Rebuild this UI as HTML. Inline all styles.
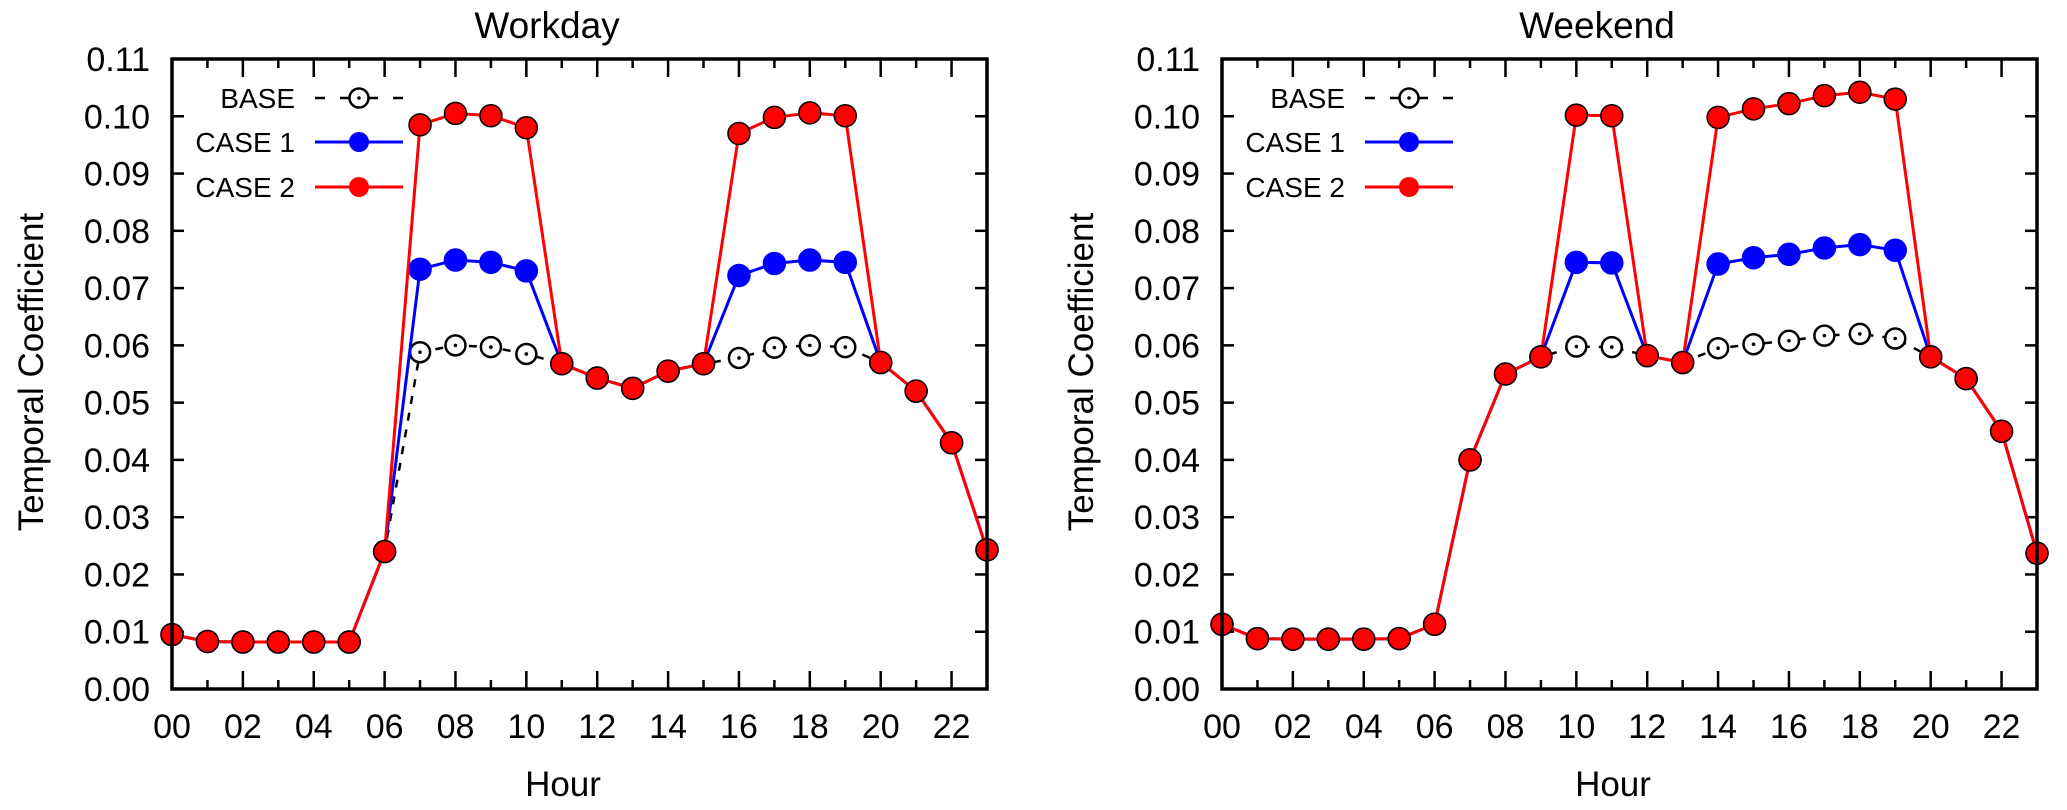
<!DOCTYPE html>
<html><head><meta charset="utf-8"><style>
html,body{margin:0;padding:0;background:#fff;}
svg{display:block;font-family:"Liberation Sans",sans-serif;}
</style></head><body>
<svg id="chart" width="2067" height="810" xmlns="http://www.w3.org/2000/svg"></svg>
<script>
const hours = [0,1,2,3,4,5,6,7,8,9,10,11,12,13,14,15,16,17,18,19,20,21,22,23];
const xTickLabels = ["00","02","04","06","08","10","12","14","16","18","20","22"];
const yTickLabels = ["0.00","0.01","0.02","0.03","0.04","0.05","0.06","0.07","0.08","0.09","0.10","0.11"];
const seriesNames = ["BASE","CASE 1","CASE 2"];
const workCase2 = [0.0095,0.0083,0.0082,0.0082,0.0082,0.0082,0.024,0.0985,0.1005,0.1001,0.098,0.0568,0.0543,0.0525,0.0555,0.0568,0.097,0.0998,0.1006,0.1001,0.057,0.052,0.043,0.0243];
const workCase1 = [0.0095,0.0083,0.0082,0.0082,0.0082,0.0082,0.024,0.0733,0.0749,0.0745,0.073,0.0568,0.0543,0.0525,0.0555,0.0568,0.0722,0.0743,0.0749,0.0745,0.057,0.052,0.043,0.0243];
const workBase = [0.0095,0.0083,0.0082,0.0082,0.0082,0.0082,0.024,0.0588,0.060,0.0597,0.0585,0.0568,0.0543,0.0525,0.0555,0.0568,0.0578,0.0596,0.060,0.0597,0.057,0.052,0.043,0.0243];
const endCase2 = [0.0113,0.0088,0.0087,0.0087,0.0087,0.0088,0.0113,0.040,0.055,0.058,0.1002,0.1001,0.0582,0.057,0.0998,0.1013,0.1022,0.1036,0.1042,0.103,0.058,0.0542,0.045,0.0237];
const endCase1 = [0.0113,0.0088,0.0087,0.0087,0.0087,0.0088,0.0113,0.040,0.055,0.058,0.0745,0.0744,0.0582,0.057,0.0742,0.0753,0.0759,0.0770,0.0776,0.0766,0.058,0.0542,0.045,0.0237];
const endBase = [0.0113,0.0088,0.0087,0.0087,0.0087,0.0088,0.0113,0.040,0.055,0.058,0.0598,0.0597,0.0582,0.057,0.0595,0.0602,0.0608,0.0617,0.062,0.0612,0.058,0.0542,0.045,0.0237];

const NS="http://www.w3.org/2000/svg";
const svg=document.getElementById('chart');
function mk(tag,attrs,parent){const e=document.createElementNS(NS,tag);for(const k in attrs)e.setAttribute(k,attrs[k]);(parent||svg).appendChild(e);return e;}

function panel(off,title,base,c1,c2,key){
  const L=172+off,R=987+off,T=59,B=689;
  const g=mk('g',{});
  
  
  const xs=h=>L+(R-L)*h/23;
  const ys=v=>B-(B-T)*v/0.11;
  const t=mk('text',{x:547+off,y:38,'font-size':37,'text-anchor':'middle'},g);t.textContent=title;
  
  
  yTickLabels.forEach((lab,i)=>{
    const y=ys(i*0.01);
    mk('line',{x1:L,x2:L+12,y1:y,y2:y,stroke:'#000','stroke-width':2.5},g);
    mk('line',{x1:R,x2:R-12,y1:y,y2:y,stroke:'#000','stroke-width':2.5},g);
    const tx=mk('text',{x:L-22,y:y+12,'font-size':34,'text-anchor':'end'},g);tx.textContent=lab;
    
    
  });
  hours.forEach(h=>{
    const x=xs(h),len=(h%2===0)?18:9;
    mk('line',{x1:x,x2:x,y1:B,y2:B-len,stroke:'#000','stroke-width':2.5},g);
    mk('line',{x1:x,x2:x,y1:T,y2:T+len,stroke:'#000','stroke-width':2.5},g);
  });
  xTickLabels.forEach((lab,i)=>{
    const tx=mk('text',{x:xs(i*2),y:738,'font-size':34,'text-anchor':'middle'},g);tx.textContent=lab;
    
    
  });
  const yl=mk('text',{x:0,y:0,'font-size':35,'text-anchor':'middle',transform:`translate(${43+off},372) rotate(-90)`},g);yl.textContent='Temporal Coefficient';
  
  
  const xl=mk('text',{x:563+off,y:796,'font-size':35,'text-anchor':'middle'},g);xl.textContent='Hour';
  
  
  const pts=a=>a.map((v,i)=>xs(hours[i])+','+ys(v)).join(' ');
  const pb=mk('polyline',{points:pts(base),fill:'none',stroke:'#000','stroke-width':2.5,'stroke-dasharray':'8 9'},g);
  
  
  base.forEach((v,i)=>{
    const c=mk('circle',{cx:xs(hours[i]),cy:ys(v),r:10,fill:'#fff',stroke:'#000','stroke-width':2.5},g);
    
    
    mk('circle',{cx:xs(hours[i]),cy:ys(v),r:1.8,fill:'#000'},g);
  });
  [[c1,'#0000ff','case1'],[c2,'#ff0000','case2']].forEach(([arr,col,nm])=>{
    const pl=mk('polyline',{points:pts(arr),fill:'none',stroke:col,'stroke-width':3},g);
    
    
    arr.forEach((v,i)=>{
      const c=mk('circle',{cx:xs(hours[i]),cy:ys(v),r:11,fill:col,stroke:(nm==='case2'?'#000':col),'stroke-width':1.5},g);
      
      
    });
  });
  mk('rect',{x:L,y:T,width:R-L,height:B-T,fill:'none',stroke:'#000','stroke-width':3.5},g);
  const lg=mk('g',{},g);
  
  
  const ly=[98,142,187],cols=['#000','#0000ff','#ff0000'];
  seriesNames.forEach((n,i)=>{
    const tx=mk('text',{x:295+off,y:ly[i]+10,'font-size':28,'text-anchor':'end'},lg);tx.textContent=n;
    
    
    const cx=359+off;
    if(i===0){
      mk('line',{x1:315+off,x2:325+off,y1:ly[i],y2:ly[i],stroke:'#000','stroke-width':2.5},lg);
      mk('line',{x1:340+off,x2:378+off,y1:ly[i],y2:ly[i],stroke:'#000','stroke-width':2.5},lg);
      mk('line',{x1:393+off,x2:403+off,y1:ly[i],y2:ly[i],stroke:'#000','stroke-width':2.5},lg);
      mk('circle',{cx:cx,cy:ly[i],r:9.5,fill:'#fff',stroke:'#000','stroke-width':2.5},lg);
      mk('circle',{cx:cx,cy:ly[i],r:1.8,fill:'#000'},lg);
    } else {
      mk('line',{x1:315+off,x2:403+off,y1:ly[i],y2:ly[i],stroke:cols[i],'stroke-width':3},lg);
      mk('circle',{cx:cx,cy:ly[i],r:10,fill:cols[i]},lg);
    }
  });
}
panel(0,'Workday',workBase,workCase1,workCase2,'workday');
panel(1050,'Weekend',endBase,endCase1,endCase2,'weekend');
</script>
</body></html>
